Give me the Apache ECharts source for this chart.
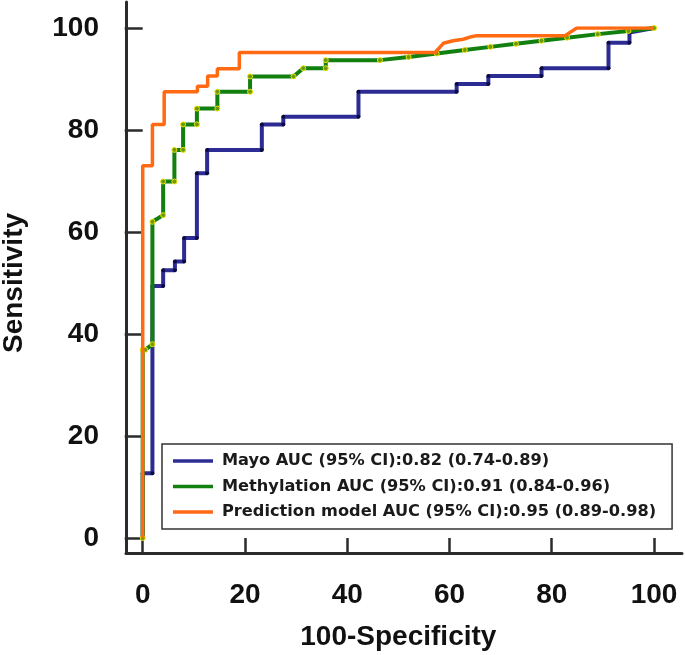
<!DOCTYPE html>
<html>
<head>
<meta charset="utf-8">
<script src="https://cdn.jsdelivr.net/npm/echarts@6/dist/echarts.min.js"></script>
<style>html,body{margin:0;padding:0;background:#fff}#c{width:685px;height:655px}</style>
</head>
<body>
<div id="c"></div>
<script>
// ---- data ----
const seriesNames = [
  'Mayo AUC (95% CI):0.82 (0.74-0.89)',
  'Methylation AUC (95% CI):0.91 (0.84-0.96)',
  'Prediction model AUC (95% CI):0.95 (0.89-0.98)'
];
const xTicks = [0, 20, 40, 60, 80, 100];
const yTicks = [0, 20, 40, 60, 80, 100];

const mayoX = [0, 0, 1.9, 1.9, 4.0, 4.0, 6.3, 6.3, 8.1, 8.1, 10.6, 10.6, 12.6, 12.6, 23.3, 23.3, 27.5, 27.5, 42.2, 42.2, 61.4, 61.4, 67.6, 67.6, 78.0, 78.0, 91.1, 91.1, 95.2, 95.2, 100];
const mayoY = [0, 12.7, 12.7, 49.4, 49.4, 52.5, 52.5, 54.2, 54.2, 58.8, 58.8, 71.5, 71.5, 76.1, 76.1, 81.1, 81.1, 82.6, 82.6, 87.5, 87.5, 89.0, 89.0, 90.6, 90.6, 92.1, 92.1, 97.1, 97.1, 99.1, 100];

const methX = [0, 0, 0.5, 1.9, 1.9, 4.0, 4.0, 6.2, 6.2, 7.9, 7.9, 10.6, 10.6, 14.6, 14.6, 21.0, 21.0, 29.5, 31.4, 35.8, 35.8, 46.4, 52.0, 57.5, 63.0, 68.0, 73.0, 78.0, 83.0, 89.0, 95.0, 100];
const methY = [0, 36.9, 36.9, 38.0, 62.0, 63.3, 69.9, 69.9, 76.1, 76.1, 81.1, 81.1, 84.2, 84.2, 87.5, 87.5, 90.5, 90.5, 92.1, 92.1, 93.7, 93.7, 94.3, 95.0, 95.7, 96.3, 96.9, 97.5, 98.1, 98.8, 99.4, 100];

const predX = [0, 0, 1.9, 1.9, 4.2, 4.2, 10.7, 10.7, 12.7, 12.7, 14.6, 14.6, 18.9, 18.9, 57.2, 58.8, 60.7, 62.7, 64.3, 65.3, 82.6, 84.9, 100];
const predY = [0, 73.0, 73.0, 81.1, 81.1, 87.5, 87.5, 88.6, 88.6, 90.6, 90.6, 92.0, 92.0, 95.2, 95.2, 97.0, 97.5, 97.8, 98.3, 98.5, 98.5, 100, 100];

const colors = ['#2c2c94', '#12800f', '#ff6a13'];

function pairs(xs, ys) { return xs.map((x, i) => [x, ys[i]]); }

const chart = echarts.init(document.getElementById('c'), null, {renderer: 'canvas'});
const FONT = '"Liberation Sans", Arial, sans-serif';
const LFONT = '"DejaVu Sans", Verdana, sans-serif';
const axisColor = '#2b2b2b';

chart.setOption({
  animation: false,
  backgroundColor: '#fff',
  grid: [
    {left: 142.7, right: 31, top: 28, bottom: 117, containLabel: false, outerBoundsMode: 'none'},
    {left: 126, right: 3, top: 2, bottom: 102, containLabel: false, outerBoundsMode: 'none'}
  ],
  xAxis: [
    {
      type: 'value', gridIndex: 0, min: 0, max: 100, interval: 20, offset: 15,
      axisLine: {show: false},
      axisTick: {show: true, length: 16, lineStyle: {color: axisColor, width: 2.5}},
      axisLabel: {margin: 28, color: '#111', fontFamily: FONT, fontWeight: 'bold', fontSize: 28,
        formatter: v => xTicks.includes(v) ? String(v) : ''},
      splitLine: {show: false},
      name: '100-Specificity', nameLocation: 'middle', nameGap: 70,
      nameTextStyle: {color: '#111', fontFamily: FONT, fontWeight: 'bold', fontSize: 28}
    },
    {
      type: 'value', gridIndex: 1, min: 0, max: 1,
      axisLine: {show: true, lineStyle: {color: axisColor, width: 3}},
      axisTick: {show: false}, axisLabel: {show: false}, splitLine: {show: false}
    }
  ],
  yAxis: [
    {
      type: 'value', gridIndex: 0, min: 0, max: 100, interval: 20, offset: 16.7,
      axisLine: {show: false},
      axisTick: {show: true, length: 18, lineStyle: {color: axisColor, width: 2.5}},
      axisLabel: {margin: 27, color: '#111', fontFamily: FONT, fontWeight: 'bold', fontSize: 28,
        formatter: v => yTicks.includes(v) ? String(v) : ''},
      splitLine: {show: false},
      name: 'Sensitivity', nameLocation: 'middle', nameGap: 98, nameRotate: 90,
      nameTextStyle: {color: '#111', fontFamily: FONT, fontWeight: 'bold', fontSize: 28}
    },
    {
      type: 'value', gridIndex: 1, min: 0, max: 1,
      axisLine: {show: true, lineStyle: {color: axisColor, width: 3}},
      axisTick: {show: false}, axisLabel: {show: false}, splitLine: {show: false}
    }
  ],
  legend: {
    orient: 'vertical', left: 162, top: 444,
    padding: [8, 16, 8, 11],
    itemGap: 7.5,
    itemWidth: 40, itemHeight: 3.5,
    icon: 'rect',
    borderColor: '#333', borderWidth: 1.5, backgroundColor: '#fff',
    textStyle: {color: '#1a1a1a', fontFamily: LFONT, fontWeight: 'bold', fontSize: 16.2, lineHeight: 18, padding: [0, 0, 0, 4]},
    data: seriesNames.map((n, i) => ({name: n, itemStyle: {color: colors[i], borderWidth: 0}}))
  },
  series: [
    {
      name: seriesNames[0], type: 'line', xAxisIndex: 0, yAxisIndex: 0,
      data: pairs(mayoX, mayoY),
      lineStyle: {color: colors[0], width: 4},
      itemStyle: {color: '#0b0b40'},
      symbol: 'circle', symbolSize: 4, showSymbol: true, z: 2
    },
    {
      name: seriesNames[1], type: 'line', xAxisIndex: 0, yAxisIndex: 0,
      data: pairs(methX, methY),
      lineStyle: {color: colors[1], width: 4},
      itemStyle: {color: '#6a9a10', borderColor: '#f2e200', borderWidth: 1},
      symbol: 'circle', symbolSize: 5, showSymbol: true, z: 3
    },
    {
      name: seriesNames[2], type: 'line', xAxisIndex: 0, yAxisIndex: 0,
      data: pairs(predX, predY),
      lineStyle: {color: colors[2], width: 3.5},
      itemStyle: {color: colors[2]},
      showSymbol: false, z: 4
    }
  ]
});
</script>
</body>
</html>
